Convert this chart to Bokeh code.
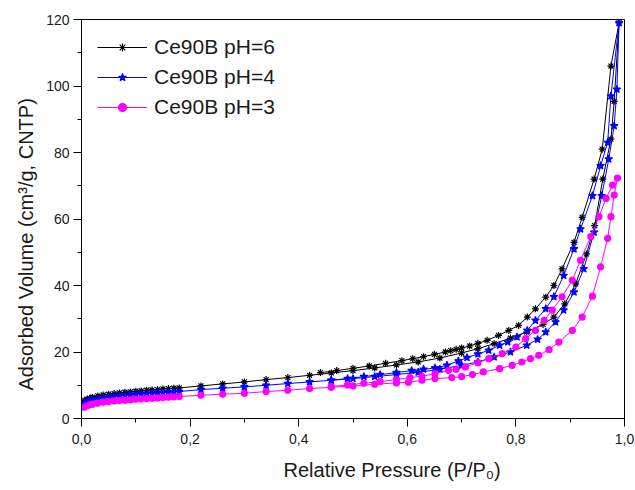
from bokeh.plotting import figure
from bokeh.models import (Range1d, SingleIntervalTicker, CustomJSTickFormatter, ColumnDataSource,
                          Legend, LegendItem, Title)
from bokeh.embed import file_html
from bokeh.resources import INLINE

# ---- data ----
# Ce90B pH=6 : adsorption branch then desorption branch
ph6_ads_p = [0.005, 0.01, 0.015, 0.02, 0.03, 0.04, 0.05, 0.06, 0.07, 0.08, 0.09, 0.10, 0.11, 0.12, 0.13,
             0.14, 0.15, 0.16, 0.17, 0.18, 0.22, 0.26, 0.30, 0.34, 0.38, 0.42, 0.46, 0.50, 0.54, 0.58,
             0.62, 0.66, 0.70, 0.73, 0.76, 0.79, 0.82, 0.85, 0.87, 0.89, 0.91, 0.93, 0.945, 0.96, 0.975,
             0.981, 0.99]
ph6_ads_v = [5.4, 5.8, 6.1, 6.4, 6.8, 7.1, 7.3, 7.5, 7.7, 7.9, 8.0, 8.2, 8.3, 8.5, 8.6,
             8.7, 8.9, 9.0, 9.1, 9.2, 9.8, 10.4, 11.0, 11.7, 12.3, 13.0, 13.7, 14.4, 15.2, 16.1,
             17.0, 18.2, 19.7, 21.0, 22.5, 24.2, 26.0, 28.3, 30.5, 34.5, 40.5, 49.5, 58.0, 72.0, 84.0,
             95.4, 119.0]
ph6_des_p = [0.975, 0.959, 0.944, 0.922, 0.907, 0.885, 0.870, 0.855, 0.836, 0.821, 0.805, 0.787, 0.768,
             0.747, 0.73, 0.715, 0.70, 0.69, 0.68, 0.67, 0.65, 0.63, 0.61, 0.59, 0.56, 0.53, 0.50, 0.47, 0.44]
ph6_des_v = [106.0, 81.0, 72.0, 60.5, 53.0, 45.0, 40.0, 36.5, 33.0, 30.5, 28.0, 26.5, 25.0,
             23.5, 22.6, 21.8, 21.2, 20.8, 20.4, 20.0, 19.3, 18.6, 18.0, 17.4, 16.6, 15.8, 15.1, 14.4, 13.8]

# Ce90B pH=4
ph4_ads_p = [0.005, 0.01, 0.015, 0.02, 0.03, 0.04, 0.05, 0.06, 0.07, 0.08, 0.09, 0.10, 0.11, 0.12, 0.13,
             0.14, 0.15, 0.16, 0.17, 0.18, 0.22, 0.26, 0.30, 0.34, 0.38, 0.42, 0.46, 0.50, 0.54, 0.58,
             0.62, 0.66, 0.70, 0.73, 0.76, 0.79, 0.82, 0.84, 0.855, 0.873, 0.888, 0.907, 0.925, 0.944,
             0.958, 0.971, 0.981, 0.986, 0.99]
ph4_ads_v = [4.7, 5.1, 5.4, 5.6, 5.9, 6.2, 6.4, 6.6, 6.8, 7.0, 7.1, 7.3, 7.4, 7.5, 7.6,
             7.7, 7.8, 7.9, 8.0, 8.1, 8.7, 9.1, 9.5, 10.0, 10.5, 11.0, 11.5, 12.0, 12.6, 13.2,
             13.9, 14.8, 16.0, 17.0, 18.5, 20.0, 22.0, 23.8, 26.0, 29.0, 32.6, 38.0, 45.0, 56.0,
             67.0, 78.0, 88.0, 99.0, 119.0]
ph4_des_p = [0.975, 0.969, 0.956, 0.941, 0.919, 0.907, 0.888, 0.870, 0.855, 0.836, 0.821, 0.802, 0.785,
             0.77, 0.75, 0.73, 0.71, 0.694, 0.673, 0.651, 0.63, 0.608, 0.58, 0.55, 0.52, 0.49, 0.46]
ph4_des_v = [97.0, 83.0, 76.0, 67.0, 57.0, 51.0, 43.0, 36.6, 33.0, 29.5, 26.5, 24.5, 23.0,
             22.0, 20.5, 19.4, 18.3, 17.3, 16.0, 15.2, 14.8, 14.4, 13.8, 13.2, 12.6, 12.0, 11.5]

# Ce90B pH=3
ph3_ads_p = [0.005, 0.01, 0.015, 0.02, 0.03, 0.04, 0.05, 0.06, 0.07, 0.08, 0.09, 0.10, 0.11, 0.12, 0.13,
             0.14, 0.15, 0.16, 0.17, 0.18, 0.22, 0.26, 0.30, 0.34, 0.38, 0.42, 0.46, 0.50, 0.54, 0.58,
             0.602, 0.627, 0.651, 0.682, 0.70, 0.72, 0.74, 0.77, 0.793, 0.811, 0.827, 0.842, 0.861, 0.879,
             0.904, 0.922, 0.941, 0.956, 0.969, 0.975, 0.981, 0.987]
ph3_ads_v = [3.4, 3.8, 4.1, 4.3, 4.6, 4.9, 5.1, 5.3, 5.4, 5.5, 5.6, 5.8, 5.9, 6.0, 6.1,
             6.2, 6.3, 6.4, 6.5, 6.6, 7.0, 7.3, 7.6, 8.1, 8.5, 9.0, 9.4, 9.8, 10.3, 10.7,
             10.9, 11.5, 12.0, 12.3, 12.6, 13.2, 14.0, 15.0, 16.0, 17.0, 18.0, 19.0, 20.7, 23.0,
             26.5, 30.5, 36.8, 45.6, 54.2, 60.7, 67.2, 72.3]
ph3_des_p = [0.978, 0.966, 0.953, 0.938, 0.919, 0.904, 0.885, 0.867, 0.852, 0.836, 0.818, 0.80, 0.775,
             0.75, 0.73, 0.707, 0.69, 0.676, 0.651, 0.627, 0.605, 0.58, 0.55, 0.52, 0.49, 0.46]
ph3_des_v = [70.2, 66.2, 60.7, 54.7, 47.6, 41.6, 36.6, 32.6, 29.5, 26.5, 24.0, 21.5, 19.5,
             18.0, 16.8, 15.5, 14.8, 14.5, 13.5, 12.7, 12.3, 11.7, 11.1, 10.6, 10.1, 9.6]

labels = ["Ce90B pH=6", "Ce90B pH=4", "Ce90B pH=3"]
colors = ["black", "blue", "magenta"]
markers = ["asterisk", "star", "circle"]
sizes = [7, 8, 6]

x_label = "Relative Pressure (P/P\u2080)"
y_label = "Adsorbed Volume (cm\u00b3/g, CNTP)"

x_ticks_interval = 0.2
y_ticks_interval = 20

FONT = "Liberation Sans"
TXT = "#1a1a1a"

p = figure(width=635, height=490, output_backend="svg", toolbar_location=None,
           x_range=Range1d(0, 1.0), y_range=Range1d(0, 120),
           min_border_left=81, min_border_right=11, min_border_top=19, min_border_bottom=72)
p.background_fill_color = "white"
p.border_fill_color = "white"
p.outline_line_color = "black"
p.outline_line_width = 1
p.xgrid.visible = False
p.ygrid.visible = False

series = [
    (ph6_ads_p + ph6_des_p, ph6_ads_v + ph6_des_v),
    (ph4_ads_p + ph4_des_p, ph4_ads_v + ph4_des_v),
    (ph3_ads_p + ph3_des_p, ph3_ads_v + ph3_des_v),
]

items = []
for (xs, ys), lab, col, mk, sz in zip(series, labels, colors, markers, sizes):
    src = ColumnDataSource(dict(x=xs, y=ys))
    r1 = p.line("x", "y", source=src, line_color=col, line_width=1)
    r2 = p.scatter("x", "y", source=src, marker=mk, size=sz, line_color=col, fill_color=col, line_width=1.2)
    items.append(LegendItem(label=lab, renderers=[r1, r2]))

legend = Legend(items=items, location="top_left", margin=10, padding=6,
                glyph_width=50, glyph_height=20, spacing=6, label_standoff=7,
                label_text_font=FONT, label_text_font_size="21px", label_text_color=TXT,
                background_fill_alpha=0, border_line_alpha=0)
p.add_layout(legend)

for ax in (p.xaxis[0], p.yaxis[0]):
    ax.axis_line_color = "black"
    ax.major_tick_line_color = "black"
    ax.minor_tick_line_color = "black"
    ax.major_tick_out = 8
    ax.major_tick_in = 0
    ax.minor_tick_out = 4
    ax.minor_tick_in = 0
    ax.major_label_text_font = FONT
    ax.major_label_text_font_size = "14px"
    ax.major_label_text_color = TXT

p.xaxis.ticker = SingleIntervalTicker(interval=x_ticks_interval, num_minor_ticks=2)
p.yaxis.ticker = SingleIntervalTicker(interval=y_ticks_interval, num_minor_ticks=2)
p.xaxis.formatter = CustomJSTickFormatter(code="return tick.toFixed(1).replace('.', ',');")
p.xaxis.major_label_standoff = 7
p.yaxis.major_label_standoff = 4

# axis titles, offset along the axes like the reference
p.add_layout(Title(text=x_label, align="left", offset=202, standoff=20,
                   text_font=FONT, text_font_size="20px", text_font_style="normal",
                   text_color=TXT), "below")
p.add_layout(Title(text=y_label, align="left", offset=28, standoff=14,
                   text_font=FONT, text_font_size="20px", text_font_style="normal",
                   text_color=TXT), "left")

open("out.html", "w").write(file_html(p, INLINE))
